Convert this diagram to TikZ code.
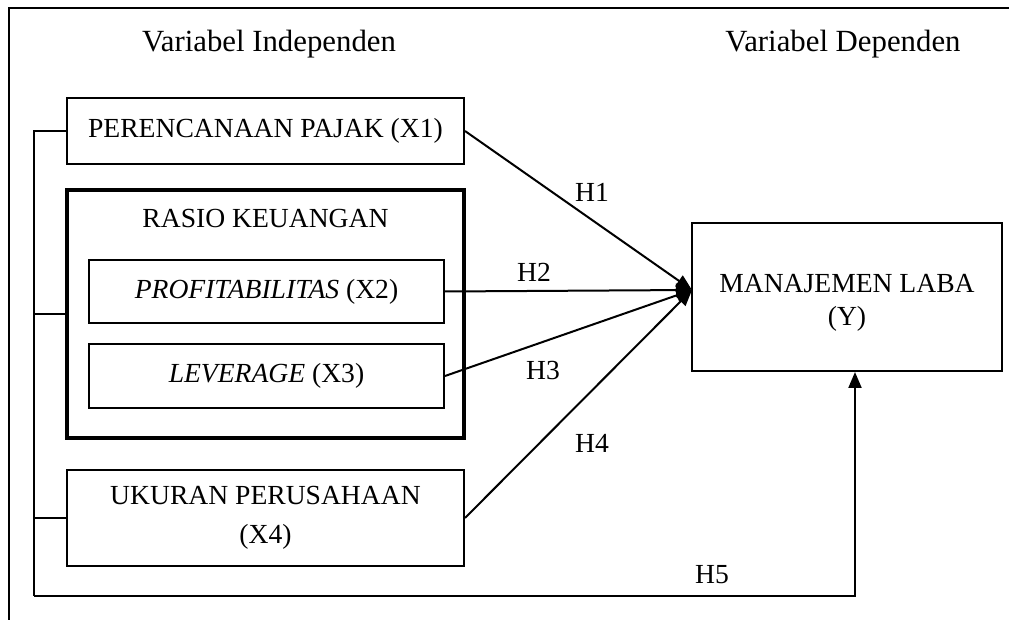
\documentclass[tikz,border=0pt]{standalone}
\usepackage{fontspec}
\setmainfont{Liberation Serif}
\usetikzlibrary{arrows.meta, positioning, calc}

\begin{document}
\begin{tikzpicture}[
    x=0.5pt, y=-0.5pt,
    varbox/.style={draw, line width=1pt, inner sep=0pt, align=center, font=\fontsize{13.8}{19.5}\selectfont},
    groupbox/.style={draw, line width=2pt, inner sep=0pt},
    head/.style={font=\fontsize{15.4}{18}\selectfont},
    lbl/.style={font=\fontsize{13.8}{16}\selectfont, align=center},
    link/.style={line width=1pt},
    hyp/.style={line width=1pt, -{Triangle[length=8pt, width=6.5pt]}}
]
\useasboundingbox (0,0) rectangle (1009,620);

% Frame
\draw[link] (1009,8) -- (9,8) -- (9,620);

% Headings
\node[head] (hIndep) at (269,44) {Variabel Independen};
\node[head] (hDep) at (843,44) {Variabel Dependen};

% Independent variables
\node[varbox, minimum width=198.5pt, minimum height=33pt] (x1) at (265.5,131) {PERENCANAAN PAJAK (X1)};
\node[groupbox, minimum width=198.5pt, minimum height=124pt] (rasio) at (265.5,314) {};
\node[lbl] (rasioLbl) at (265.5,219) {RASIO KEUANGAN};
\node[varbox, minimum width=177.5pt, minimum height=31.5pt] (x2) at (266.5,291.5) {\textit{PROFITABILITAS} (X2)};
\node[varbox, minimum width=177.5pt, minimum height=32pt] (x3) at (266.5,376) {\textit{LEVERAGE} (X3)};
\node[varbox, minimum width=198.5pt, minimum height=48pt] (x4) at (265.5,518) {UKURAN PERUSAHAAN\\(X4)};

% Dependent variable
\node[varbox, minimum width=155pt, minimum height=74pt] (y) at (847,297) {};
\node[lbl, font=\fontsize{13.8}{16.5}\selectfont] (yLbl) at (847,303) {MANAJEMEN LABA\\(Y)};
\coordinate (hub) at (692,290);

% Hypotheses
\draw[hyp] (x1.east) -- (hub);
\draw[hyp] (x2.east) -- (hub);
\draw[hyp] (x3.east) -- (hub);
\draw[hyp] (x4.east) -- (hub);
\node[lbl] (h1) at (592,192) {H1};
\node[lbl] (h2) at (534,272) {H2};
\node[lbl] (h3) at (543,370) {H3};
\node[lbl] (h4) at (592,443) {H4};

% Simultaneous path
\coordinate (busEnd) at (34,596);
\coordinate (yIn) at ($(y.south)+(8,0)$);
\draw[link] (x1.west) -| (busEnd);
\draw[link] (rasio.west) -- (rasio.west -| busEnd);
\draw[link] (x4.west) -- (x4.west -| busEnd);
\draw[hyp] (busEnd) -| (yIn);
\node[lbl] (h5) at (712,575) {H5};

\end{tikzpicture}
\end{document}
